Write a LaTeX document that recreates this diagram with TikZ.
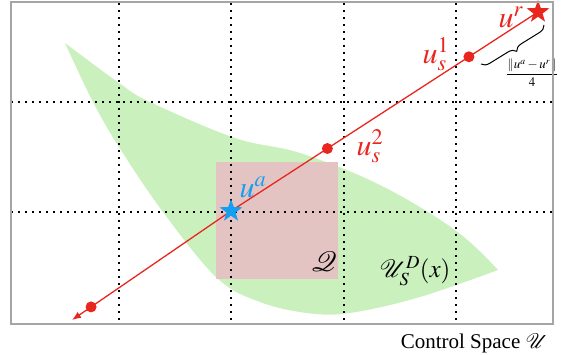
\documentclass[tikz,border=0pt]{standalone}
\usepackage{mathptmx}
\usepackage{fontspec}
\setmainfont{Liberation Serif}
\usetikzlibrary{shapes.geometric,decorations.pathreplacing,arrows.meta,calc}
\definecolor{lred}{RGB}{232,38,30}
\definecolor{lblue}{RGB}{24,158,240}
\definecolor{lgreen}{RGB}{202,240,190}
\definecolor{lpink}{RGB}{227,196,194}
\definecolor{lframe}{RGB}{165,165,165}
\begin{document}
\begin{tikzpicture}[x=1pt,y=-1pt,
  gridline/.style={line width=1.6pt, dash pattern=on 1.6pt off 5.4pt, black},
  redline/.style={draw=lred, line width=1.3pt},
  dot/.style={circle, fill=lred, inner sep=0pt, minimum size=11pt},
  starnode/.style={star, star points=5, star point ratio=2.5, inner sep=0pt, minimum size=24pt},
  lab/.style={inner sep=0pt, font=\fontsize{30}{34}\selectfont}]
\useasboundingbox (0,0) rectangle (564,355);
% feasible set
\fill[lgreen] plot[smooth, tension=0.6] coordinates {(65,43) (119,83) (150,102) (235,138) (300,153) (380,185) (455,230) (498,270)}
  -- plot[smooth, tension=0.6] coordinates {(498,270) (420,297) (350,313) (307,313) (260,302) (217,278) (163,212) (119,147) (93,102) (65,43)} -- cycle;
% box Q
\fill[lpink] (216,162) rectangle (338,279);
% grid
\foreach \gx in {119,231,344,456} \draw[gridline] (\gx,3) -- (\gx,323);
\foreach \gy in {102,212} \draw[gridline] (11,\gy) -- (552,\gy);
% line
\coordinate (ua) at (231,211);
\coordinate (ur) at (538,12);
\coordinate (tip) at (72,320);
\draw[redline, -{Latex[length=9pt,width=7pt]}] (ur) -- (ua) -- (tip);
\node[dot] (s1) at ($(ua)!0.775!(ur)$) {};
\node[dot] (s2) at ($(ua)!0.314!(ur)$) {};
\node[dot] (s0) at ($(ua)!0.88!(tip)$) {};
\node[starnode, fill=lred] (rstar) at (ur) {};
\node[starnode, fill=lblue] (bstar) at (ua) {};
% labels
\node[lab, text=lred] (lur) at (511,17) {$u^r$};
\node[lab, text=lred] (ls1) at (436,54) {$u_s^1$};
\node[lab, text=lred] (ls2) at (370,146) {$u_s^2$};
\node[lab, text=lblue] (lua) at (253,187) {$u^a$};
\node[lab, font=\fontsize{28}{32}\selectfont] (lq) at (324,262) {$\mathcal{Q}$};
\node[lab, font=\fontsize{25}{29}\selectfont] (lud) at (415,271) {$\mathcal{U}_S^D(x)$};
\node[inner sep=0pt, anchor=base east, font=\fontsize{21}{25}\selectfont] (cs) at (548,348) {Control Space $\mathcal{U}$};
% brace
\coordinate (b1) at (544,25);
\coordinate (b2) at (481,64);
\draw[decorate, decoration={brace, amplitude=8pt}, line width=1pt] (b1) -- (b2);
\node[inner sep=0pt, anchor=west, font=\fontsize{13}{15}\selectfont] (frac) at (506,73) {$\displaystyle\frac{\|u^a-u^r\|}{4}$};
% frame
\draw[lframe, line width=2pt] (10.5,2) rectangle (552.5,323.5);
\end{tikzpicture}
\end{document}
